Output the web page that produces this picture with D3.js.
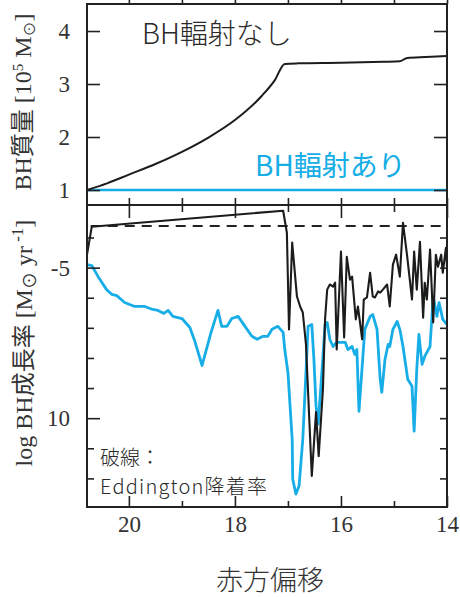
<!DOCTYPE html>
<meta charset="utf-8">
<style>
body { margin: 0; background: #fff; }
.frame { fill: none; stroke: #222; stroke-width: 2; }
.axis path { display: none; }
.axis line { stroke: #222; stroke-width: 1.6; }
.axis text { font-family: "Liberation Serif", serif; font-size: 23px; fill: #333; }
.jp { font-family: "Noto Sans CJK JP", "Noto Sans", sans-serif; font-weight: 300; }
.ylab { font-family: "Liberation Serif", "Noto Sans CJK JP", serif; font-size: 24px; fill: #333; }
</style>
<script src="https://d3js.org/d3.v7.min.js"></script>
<div id="chart"></div>
<script>

// redshift values and BH mass [1e5 Msun], top panel
var zMass = [20.79, 20.40, 20.00, 19.50, 19.00, 18.50, 18.00, 17.50, 17.25, 17.06, 16.80, 16.00, 15.20, 14.89, 14.80, 14.75, 14.40, 14.00];
var massNoRad = [1.00, 1.13, 1.29, 1.49, 1.72, 1.99, 2.32, 2.77, 3.07, 3.38, 3.39, 3.40, 3.42, 3.43, 3.47, 3.49, 3.51, 3.53];
var zMassRad = [20.79, 14.00];
var massRad = [1.00, 1.00];

// log growth rate, bottom panel, without radiation feedback
var zNoRad = [20.79, 20.70, 17.09, 17.02, 16.98, 16.92, 16.83, 16.77, 16.72, 16.66, 16.55, 16.47, 16.42, 16.34, 16.30, 16.26, 16.21, 16.15, 16.11, 16.08,
  16.00, 15.94, 15.89, 15.83, 15.79, 15.72, 15.68, 15.60, 15.57, 15.51, 15.45, 15.40, 15.36, 15.30, 15.26, 15.21, 15.13, 15.08, 15.02, 14.96,
  14.89, 14.83, 14.75, 14.66, 14.62, 14.57, 14.51, 14.45, 14.42, 14.38, 14.32, 14.26, 14.21, 14.17, 14.11, 14.08, 14.02, 14.00];
var rateNoRad = [-4.57, -3.64, -3.11, -3.84, -7.05, -4.17, -5.96, -6.29, -6.49, -7.55, -11.92, -9.80, -11.26, -9.04, -6.72, -5.73, -5.56, -5.63, -5.50, -7.72,
  -4.47, -7.32, -4.64, -5.40, -5.30, -6.72, -6.29, -7.38, -6.06, -5.99, -5.17, -5.96, -5.99, -5.79, -5.83, -5.73, -5.56, -6.29, -4.90, -4.57,
  -5.30, -3.51, -4.64, -6.06, -4.47, -5.73, -4.14, -6.66, -5.50, -6.06, -4.40, -6.82, -4.57, -4.97, -4.57, -5.17, -4.34, -4.97];

// log growth rate, with radiation feedback
var zRad = [20.79, 20.70, 20.58, 20.42, 20.32, 20.23, 20.08, 19.89, 19.70, 19.55, 19.45, 19.34, 19.26, 19.17, 19.00, 18.85, 18.75, 18.62, 18.45, 18.32,
  18.25, 18.15, 18.06, 17.94, 17.81, 17.68, 17.58, 17.47, 17.38, 17.30, 17.19, 17.09, 17.06, 17.00, 16.92, 16.91, 16.85, 16.79, 16.72, 16.66,
  16.62, 16.55, 16.51, 16.47, 16.43, 16.36, 16.30, 16.26, 16.21, 16.15, 16.08, 15.92, 15.87, 15.79, 15.74, 15.70, 15.66, 15.60, 15.55, 15.45,
  15.40, 15.32, 15.26, 15.23, 15.17, 15.11, 15.08, 15.02, 14.94, 14.89, 14.83, 14.74, 14.66, 14.62, 14.57, 14.53, 14.47, 14.42, 14.32, 14.26,
  14.19, 14.15, 14.08, 14.00];
var rateRad = [-4.90, -4.93, -5.30, -5.73, -5.89, -5.93, -6.16, -6.29, -6.29, -6.39, -6.42, -6.52, -6.42, -6.62, -6.69, -6.99, -7.48, -8.25, -7.15, -6.42,
  -6.95, -6.95, -6.69, -6.62, -6.95, -7.28, -7.38, -7.28, -7.28, -7.05, -6.95, -7.15, -7.72, -8.48, -10.70, -12.02, -12.52, -12.25, -10.70, -8.48,
  -6.95, -6.89, -8.05, -9.60, -10.20, -8.48, -6.89, -6.82, -7.38, -7.62, -7.48, -7.48, -7.72, -7.62, -7.88, -7.72, -9.77, -8.28, -7.05, -6.62,
  -6.56, -7.05, -8.71, -9.14, -8.05, -7.55, -7.62, -7.05, -6.79, -7.05, -7.62, -8.71, -8.94, -10.43, -8.38, -7.22, -8.21, -7.95, -7.62, -5.96,
  -6.62, -6.16, -6.72, -6.89];

// Eddington rate (dashed)
var zEdd = [20.72, 14.12];
var rateEdd = [-3.62, -3.62];

var xTicksMajor = [20, 18, 16, 14];
var xTicksMinor = [19, 17, 15];
var yTopTicks = [1, 2, 3, 4];
var yBotMajor = [-5, -10];
var yBotLabels = ["-5", "10"];
var yBotMinor = [-4, -6, -7, -8, -9, -11, -12];

var black = "#1c1c1c", blue = "#17ade6";

var W = 460, H = 597;
var L = 87, R = 447, T = 4, M = 205, B = 507;

var svg = d3.select("#chart").append("svg")
  .attr("width", W).attr("height", H);
svg.append("rect").attr("width", W).attr("height", H).attr("fill", "#fff");

var x = d3.scaleLinear().domain([20.79, 14]).range([L, R]);
var yTop = d3.scaleLinear().domain([0.717, 4.51]).range([M, T]);
var yBot = d3.scaleLinear().domain([-2.92, -12.95]).range([M, B]);

var defs = svg.append("defs");
defs.append("clipPath").attr("id", "clipTop").append("rect")
  .attr("x", L).attr("y", T).attr("width", R - L).attr("height", M - T);
defs.append("clipPath").attr("id", "clipBot").append("rect")
  .attr("x", L).attr("y", M).attr("width", R - L).attr("height", B - M);

// top panel lines
var lineTop = d3.line()
  .x(function(d) { return x(d[0]); })
  .y(function(d) { return yTop(d[1]); });

var gTop = svg.append("g").attr("clip-path", "url(#clipTop)");
gTop.append("path")
  .datum(d3.zip(zMassRad, massRad))
  .attr("d", lineTop)
  .attr("fill", "none").attr("stroke", blue).attr("stroke-width", 2.6);
gTop.append("path")
  .datum(d3.zip(zMass, massNoRad))
  .attr("d", lineTop.curve(d3.curveMonotoneX))
  .attr("fill", "none").attr("stroke", black).attr("stroke-width", 2);

// bottom panel lines
var lineBot = d3.line()
  .x(function(d) { return x(d[0]); })
  .y(function(d) { return yBot(d[1]); });

var gBot = svg.append("g").attr("clip-path", "url(#clipBot)");
gBot.append("path")
  .datum(d3.zip(zEdd, rateEdd))
  .attr("d", lineBot)
  .attr("fill", "none").attr("stroke", "#222").attr("stroke-width", 2)
  .attr("stroke-dasharray", "10,7");
gBot.append("path")
  .datum(d3.zip(zRad, rateRad))
  .attr("d", lineBot)
  .attr("fill", "none").attr("stroke", blue).attr("stroke-width", 2.8)
  .attr("stroke-linejoin", "round");
gBot.append("path")
  .datum(d3.zip(zNoRad, rateNoRad))
  .attr("d", lineBot)
  .attr("fill", "none").attr("stroke", black).attr("stroke-width", 2.1)
  .attr("stroke-linejoin", "round");

// axes (ticks point inward)
function addAxis(axis, tx, ty) {
  return svg.append("g").attr("class", "axis")
    .attr("transform", "translate(" + tx + "," + ty + ")")
    .call(axis);
}
// top panel
addAxis(d3.axisLeft(yTop).tickValues(yTopTicks).tickSize(-13).tickPadding(17).tickFormat(d3.format("d")), L, 0);
addAxis(d3.axisRight(yTop).tickValues(yTopTicks).tickSize(-13).tickFormat(""), R, 0);
addAxis(d3.axisBottom(x).tickValues(xTicksMajor.concat(xTicksMinor)).tickSize(-11).tickFormat(""), 0, T);
addAxis(d3.axisTop(x).tickValues(xTicksMajor.concat(xTicksMinor)).tickSize(7).tickFormat(""), 0, M);
// bottom panel
addAxis(d3.axisBottom(x).tickValues(xTicksMajor).tickSize(13).tickFormat(""), 0, M);
addAxis(d3.axisBottom(x).tickValues(xTicksMinor).tickSize(7).tickFormat(""), 0, M);
addAxis(d3.axisTop(x).tickValues(xTicksMajor).tickSize(11).tickPadding(-36).tickFormat(d3.format("d")), 0, B)
  .selectAll("text").attr("dy", null);
addAxis(d3.axisTop(x).tickValues(xTicksMinor).tickSize(6).tickFormat(""), 0, B);
addAxis(d3.axisLeft(yBot).tickValues(yBotMajor).tickSize(-13).tickPadding(17)
  .tickFormat(function(d, i) { return yBotLabels[i]; }), L, 0);
addAxis(d3.axisLeft(yBot).tickValues(yBotMinor).tickSize(-7).tickFormat(""), L, 0);
addAxis(d3.axisRight(yBot).tickValues(yBotMajor.concat(yBotMinor)).tickSize(-7).tickFormat(""), R, 0);

// frame
svg.append("rect").attr("class", "frame")
  .attr("x", L).attr("y", T).attr("width", R - L).attr("height", B - T);
svg.append("line").attr("class", "frame")
  .attr("x1", L).attr("x2", R).attr("y1", M).attr("y2", M);

// annotations
svg.append("text").attr("class", "jp")
  .attr("x", 142).attr("y", 44)
  .attr("font-size", 28).attr("fill", "#2a2a2a")
  .text("BH輻射なし");
svg.append("text").attr("class", "jp")
  .attr("x", 255).attr("y", 176)
  .attr("font-size", 28).attr("fill", blue).style("font-weight", 400)
  .text("BH輻射あり");
svg.append("text").attr("class", "jp")
  .attr("x", 100).attr("y", 465)
  .attr("font-size", 20).attr("fill", "#2a2a2a")
  .text("破線：");
svg.append("text").attr("class", "jp")
  .attr("x", 100).attr("y", 494)
  .attr("font-size", 20).attr("fill", "#2a2a2a")
  .attr("textLength", 167).attr("lengthAdjust", "spacing")
  .text("Eddington降着率");

// axis titles
svg.append("text").attr("class", "jp")
  .attr("x", 270).attr("y", 590)
  .attr("text-anchor", "middle")
  .attr("font-size", 27).attr("fill", "#333")
  .text("赤方偏移");

var t1 = svg.append("text").attr("class", "ylab")
  .attr("transform", "translate(31,102) rotate(-90)")
  .attr("text-anchor", "middle");
t1.append("tspan").text("BH質量 [10");
t1.append("tspan").attr("dy", -8).attr("font-size", 15).text("5");
t1.append("tspan").attr("dy", 8).text(" M");
t1.append("tspan").attr("dy", 4).attr("font-size", 15).text("⊙");
t1.append("tspan").attr("dy", -4).text("]");

var t2 = svg.append("text").attr("class", "ylab")
  .attr("transform", "translate(32,343) rotate(-90)")
  .attr("text-anchor", "middle").attr("font-size", 27);
t2.append("tspan").text("log BH成長率 [M");
t2.append("tspan").attr("dy", 4).attr("font-size", 17).text("⊙");
t2.append("tspan").attr("dy", -4).text(" yr");
t2.append("tspan").attr("dy", -9).attr("font-size", 17).text(" -1");
t2.append("tspan").attr("dy", 9).text("]");

</script>
